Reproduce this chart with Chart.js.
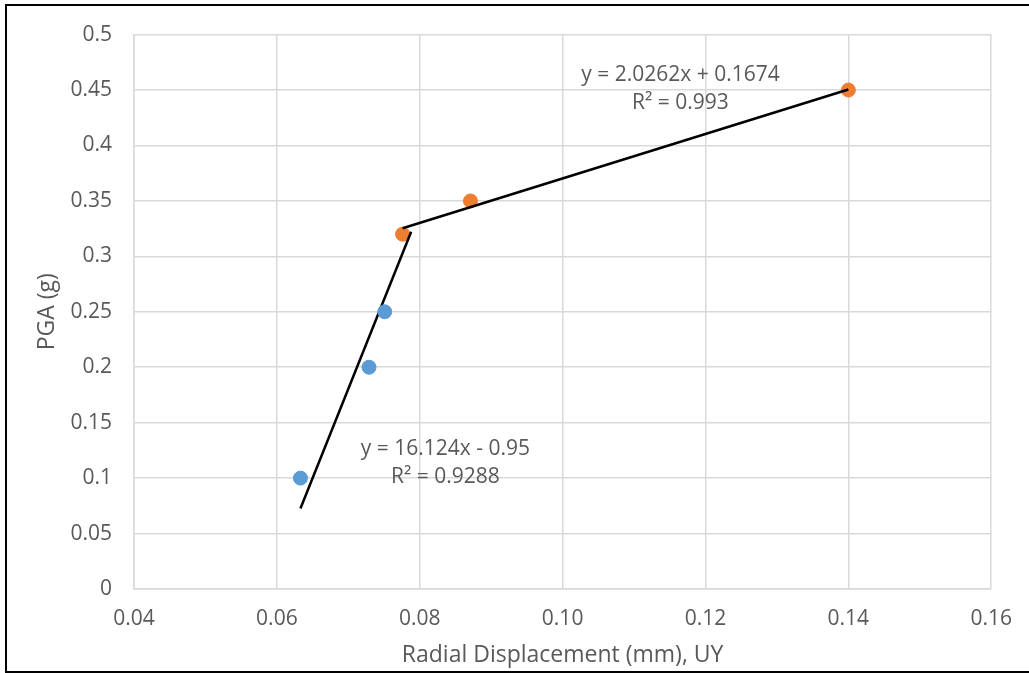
<!DOCTYPE html>
<html>
<head>
<meta charset="utf-8">
<script src="https://cdn.jsdelivr.net/npm/chart.js@4/dist/chart.umd.min.js"></script>
<style>
  html, body { margin: 0; padding: 0; background: #fff; }
  #wrap { position: relative; width: 1029px; height: 673px; }
</style>
</head>
<body>
<div id="wrap"><canvas id="chart" width="1029" height="673"></canvas></div>
<script>
// --- Data ---
const blueX = [0.0633, 0.0729, 0.0751];
const blueY = [0.10, 0.20, 0.25];
const orangeX = [0.0776, 0.0871, 0.1400];
const orangeY = [0.32, 0.35, 0.45];

// trendline end points (as drawn)
const blueTrendX = [0.0633, 0.0788];
const blueTrendY = [0.0726, 0.3222];
const orangeTrendX = [0.0776, 0.1400];
const orangeTrendY = [0.3253, 0.4505];

// axis ticks
const xTickValues = [0.04, 0.06, 0.08, 0.10, 0.12, 0.14, 0.16];
const xTickLabels = ['0.04', '0.06', '0.08', '0.10', '0.12', '0.14', '0.16'];
const yTickValues = [0, 0.05, 0.1, 0.15, 0.2, 0.25, 0.3, 0.35, 0.4, 0.45, 0.5];
const yTickLabels = ['0', '0.05', '0.1', '0.15', '0.2', '0.25', '0.3', '0.35', '0.4', '0.45', '0.5'];

// trendline labels
const labelTexts = ['y = 2.0262x + 0.1674', 'R\u00B2 = 0.993', 'y = 16.124x - 0.95', 'R\u00B2 = 0.9288'];

const toPoints = (xs, ys) => xs.map((x, i) => ({ x: x, y: ys[i] }));

const TEXT = '#595959';
const GRID = '#d9d9d9';
const FONT = "'Open Sans', sans-serif";

// equation labels, anchored in data units
const labelAnchors = [
  { x: 0.1165, y: 0.464 },
  { x: 0.1165, y: 0.438 },
  { x: 0.0836, y: 0.126 },
  { x: 0.0836, y: 0.1007 }
];

const extras = {
  id: 'extras',
  afterDatasetsDraw(chart) {
    const { ctx, scales } = chart;
    ctx.save();
    ctx.font = '21px ' + FONT;
    ctx.fillStyle = TEXT;
    ctx.textAlign = 'center';
    ctx.textBaseline = 'middle';
    labelTexts.forEach((t, i) => {
      ctx.fillText(t, scales.x.getPixelForValue(labelAnchors[i].x), scales.y.getPixelForValue(labelAnchors[i].y));
    });
    ctx.restore();
  },
  afterDraw(chart) {
    // outer frame (right edge runs off the picture)
    const ctx = chart.ctx;
    ctx.save();
    ctx.strokeStyle = '#000';
    ctx.lineWidth = 2;
    ctx.strokeRect(6, 5, 1030, 667);
    ctx.restore();
  }
};

new Chart(document.getElementById('chart'), {
  type: 'scatter',
  data: {
    datasets: [
      {
        label: 'blue trend',
        type: 'line',
        data: toPoints(blueTrendX, blueTrendY),
        borderColor: '#000',
        borderWidth: 2.5,
        pointRadius: 0,
        fill: false
      },
      {
        label: 'orange trend',
        type: 'line',
        data: toPoints(orangeTrendX, orangeTrendY),
        borderColor: '#000',
        borderWidth: 2.5,
        pointRadius: 0,
        fill: false
      },
      {
        label: 'blue',
        data: toPoints(blueX, blueY),
        backgroundColor: '#5b9bd5',
        borderColor: '#5b9bd5',
        pointRadius: 7,
        order: -1
      },
      {
        label: 'orange',
        data: toPoints(orangeX, orangeY),
        backgroundColor: '#ed7d31',
        borderColor: '#ed7d31',
        pointRadius: 7,
        order: 1
      }
    ]
  },
  options: {
    responsive: false,
    animation: false,
    events: [],
    layout: { padding: { top: 33, right: 36, left: 0, bottom: 0 } },
    plugins: { legend: { display: false }, tooltip: { enabled: false } },
    scales: {
      x: {
        type: 'linear',
        min: 0.04,
        max: 0.16,
        afterBuildTicks: s => { s.ticks = xTickValues.map(v => ({ value: v })); },
        afterFit: s => { s.height = 84; },
        grid: { color: GRID, lineWidth: 1.5, drawTicks: false },
        border: { color: GRID, width: 1.5 },
        ticks: {
          color: TEXT, font: { family: FONT, size: 21 }, padding: 17,
          callback: (v, i) => xTickLabels[i]
        },
        title: {
          display: true, text: 'Radial Displacement (mm), UY',
          color: TEXT, font: { family: FONT, size: 23 }, padding: { top: 0, bottom: 4 }
        }
      },
      y: {
        type: 'linear',
        min: 0,
        max: 0.5,
        afterBuildTicks: s => { s.ticks = yTickValues.map(v => ({ value: v })); },
        afterFit: s => { s.width = 134; },
        grid: { color: GRID, lineWidth: 1.5, drawTicks: false },
        border: { color: GRID, width: 1.5 },
        ticks: {
          color: TEXT, font: { family: FONT, size: 21 }, padding: 22,
          callback: (v, i) => yTickLabels[i]
        },
        title: {
          display: true, text: 'PGA (g)',
          color: TEXT, font: { family: FONT, size: 23 }, padding: { top: 34, bottom: 0 }
        }
      }
    }
  },
  plugins: [extras]
});
</script>
</body>
</html>
